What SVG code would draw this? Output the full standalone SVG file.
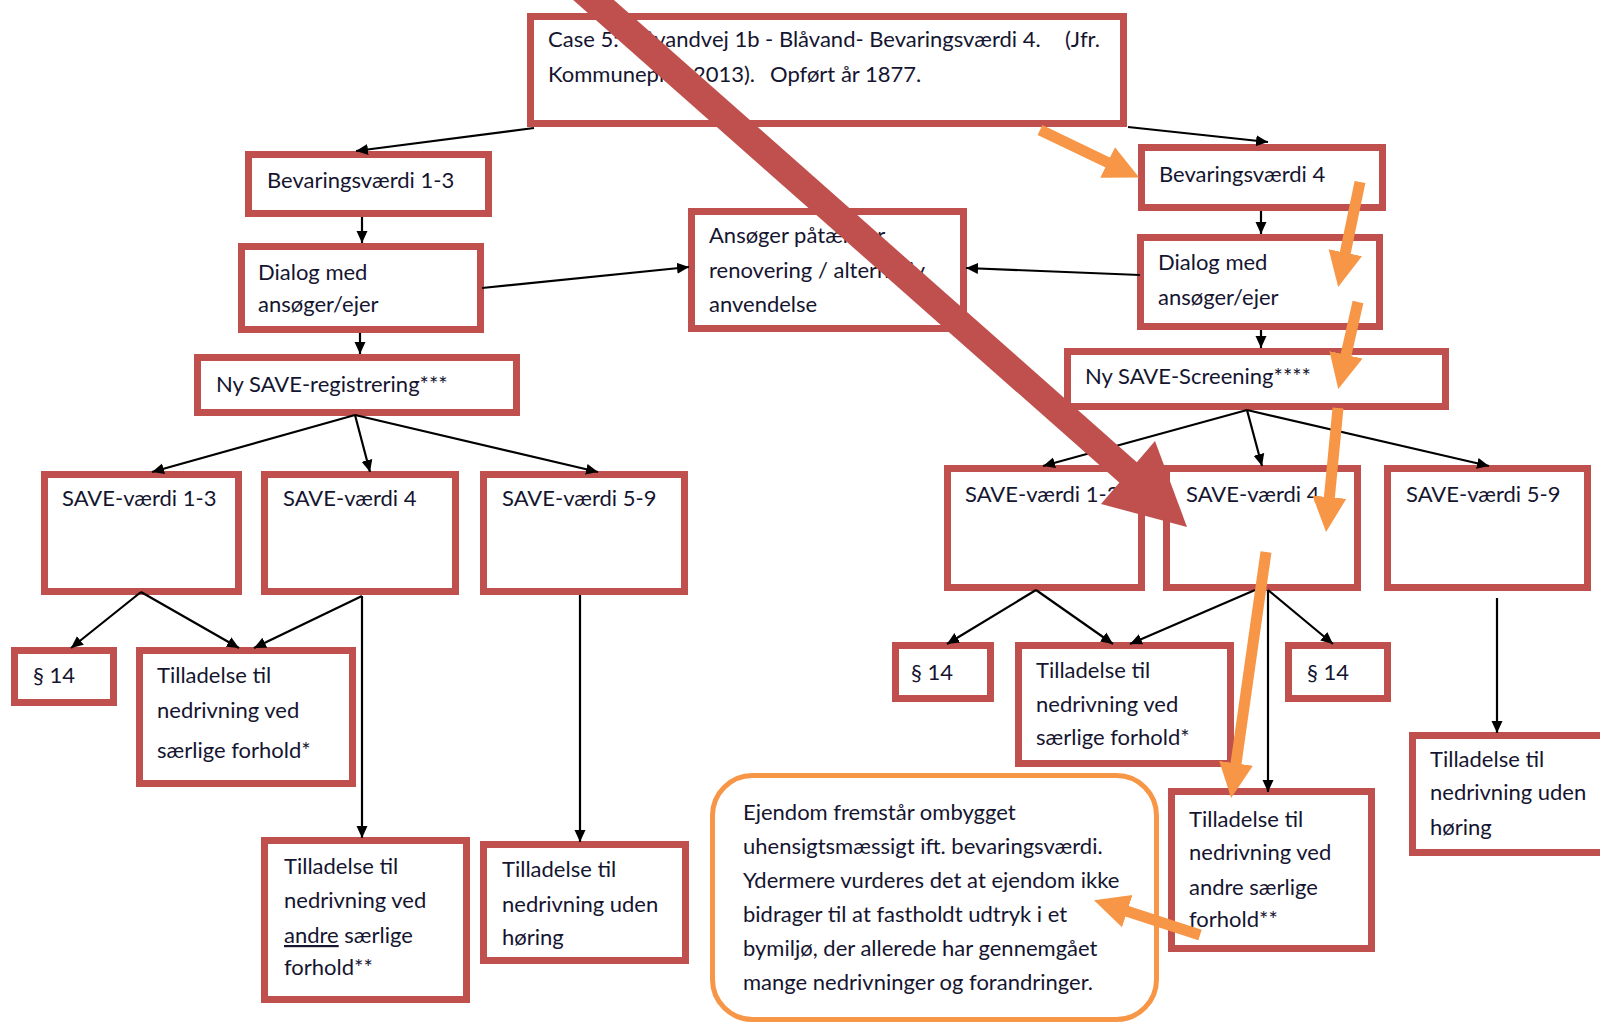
<svg xmlns="http://www.w3.org/2000/svg" width="1600" height="1022" viewBox="0 0 1600 1022">
<style>
.box{fill:#fff;stroke:#C0504D;stroke-width:7}
.t{font-family:Lato,"Liberation Sans",sans-serif;font-size:22px;fill:#151530}
.c{stroke:#000;stroke-width:2.2;fill:none}
.ca{stroke:#000;stroke-width:2.2;fill:none;marker-end:url(#ah)}
.o{stroke:#F79646;stroke-width:11;fill:none;marker-end:url(#oh)}
</style>
<defs>
<marker id="ah" markerUnits="userSpaceOnUse" markerWidth="14" markerHeight="14" viewBox="0 -7 14 14" refX="12" refY="0" orient="auto">
<path d="M0,-5.5 L12,0 L0,5.5 z" fill="#000"/>
</marker>
<marker id="oh" markerUnits="userSpaceOnUse" markerWidth="40" markerHeight="40" viewBox="0 -20 40 40" refX="1" refY="0" orient="auto">
<path d="M0,-17 L35,0 L0,17 z" fill="#F79646"/>
</marker>
</defs>
<rect width="1600" height="1022" fill="#fff"/>

<g id="n-top"><rect class="box" x="530.5" y="16.5" width="593" height="107"/>
<text class="t" x="548" y="47">Case 5: Blåvandvej 1b - Blåvand- Bevaringsværdi 4.</text><text class="t" x="1065" y="47">(Jfr.</text>
<text class="t" x="548" y="82">Kommuneplan 2013).</text><text class="t" x="770" y="82">Opført år 1877.</text></g>

<g id="n-bev13"><rect class="box" x="248.5" y="154.5" width="240" height="59"/><text class="t" x="267" y="188">Bevaringsværdi 1-3</text></g>
<g id="n-bev4"><rect class="box" x="1141.5" y="147.5" width="241" height="60"/><text class="t" x="1159" y="182">Bevaringsværdi 4</text></g>
<g id="n-dialogL"><rect class="box" x="241.5" y="246.5" width="239" height="83"/><text class="t" x="258" y="280">Dialog med</text><text class="t" x="258" y="312">ansøger/ejer</text></g>
<g id="n-ansoger"><rect class="box" x="691.5" y="211.5" width="272" height="117"/><text class="t" x="709" y="243">Ansøger påtænker</text><text class="t" x="709" y="278">renovering / alternativ</text><text class="t" x="709" y="312">anvendelse</text></g>
<g id="n-dialogR"><rect class="box" x="1140.5" y="237.5" width="239" height="89"/><text class="t" x="1158" y="270">Dialog med</text><text class="t" x="1158" y="305">ansøger/ejer</text></g>
<g id="n-nysaveL"><rect class="box" x="197.5" y="357.5" width="319" height="55"/><text class="t" x="216" y="392">Ny SAVE-registrering***</text></g>
<g id="n-nysaveR"><rect class="box" x="1067.5" y="351.5" width="378" height="55"/><text class="t" x="1085" y="384">Ny SAVE-Screening****</text></g>

<g id="n-save13L"><rect class="box" x="44.5" y="474.5" width="194" height="117"/><text class="t" x="62" y="506">SAVE-værdi 1-3</text></g>
<g id="n-save4L"><rect class="box" x="264.5" y="474.5" width="191" height="117"/><text class="t" x="283" y="506">SAVE-værdi 4</text></g>
<g id="n-save59L"><rect class="box" x="483.5" y="474.5" width="201" height="117"/><text class="t" x="502" y="506">SAVE-værdi 5-9</text></g>
<g id="n-save13R"><rect class="box" x="947.5" y="468.5" width="194" height="119"/><text class="t" x="965" y="502">SAVE-værdi 1-3</text></g>
<g id="n-save4R"><rect class="box" x="1166.5" y="468.5" width="191" height="119"/><text class="t" x="1186" y="502">SAVE-værdi 4</text></g>
<g id="n-save59R"><rect class="box" x="1387.5" y="468.5" width="200" height="119"/><text class="t" x="1406" y="502">SAVE-værdi 5-9</text></g>

<g id="n-p14L"><rect class="box" x="14.5" y="650.5" width="99" height="52"/><text class="t" x="33" y="683">§ 14</text></g>
<g id="n-tillL"><rect class="box" x="139.5" y="650.5" width="213" height="133"/><text class="t" x="157" y="683">Tilladelse til</text><text class="t" x="157" y="718">nedrivning ved</text><text class="t" x="157" y="758">særlige forhold*</text></g>
<g id="n-andreL"><rect class="box" x="264.5" y="840.5" width="202" height="159"/><text class="t" x="284" y="874">Tilladelse til</text><text class="t" x="284" y="908">nedrivning ved</text><text class="t" x="284" y="943"><tspan text-decoration="underline">andre</tspan> særlige</text><text class="t" x="284" y="975">forhold**</text></g>
<g id="n-udenL"><rect class="box" x="483.5" y="844.5" width="202" height="116"/><text class="t" x="502" y="877">Tilladelse til</text><text class="t" x="502" y="912">nedrivning uden</text><text class="t" x="502" y="945">høring</text></g>

<g id="n-p14R1"><rect class="box" x="895.5" y="645.5" width="95" height="53"/><text class="t" x="911" y="680">§ 14</text></g>
<g id="n-tillR"><rect class="box" x="1018.5" y="645.5" width="212" height="118"/><text class="t" x="1036" y="678">Tilladelse til</text><text class="t" x="1036" y="712">nedrivning ved</text><text class="t" x="1036" y="745">særlige forhold*</text></g>
<g id="n-p14R2"><rect class="box" x="1288.5" y="645.5" width="99" height="53"/><text class="t" x="1307" y="680">§ 14</text></g>
<g id="n-andreR"><rect class="box" x="1171.5" y="791.5" width="200" height="157"/><text class="t" x="1189" y="827">Tilladelse til</text><text class="t" x="1189" y="860">nedrivning ved</text><text class="t" x="1189" y="895">andre særlige</text><text class="t" x="1189" y="927">forhold**</text></g>
<g id="n-udenR"><rect class="box" x="1412.5" y="735.5" width="210" height="117"/><text class="t" x="1430" y="767">Tilladelse til</text><text class="t" x="1430" y="800">nedrivning uden</text><text class="t" x="1430" y="835">høring</text></g>

<g id="n-note"><rect x="712.5" y="775.5" width="444" height="244" rx="40" ry="40" fill="#fff" stroke="#F79646" stroke-width="5"/>
<text class="t" x="743" y="820">Ejendom fremstår ombygget</text>
<text class="t" x="743" y="854">uhensigtsmæssigt ift. bevaringsværdi.</text>
<text class="t" x="743" y="888">Ydermere vurderes det at ejendom ikke</text>
<text class="t" x="743" y="922">bidrager til at fastholdt udtryk i et</text>
<text class="t" x="743" y="956">bymiljø, der allerede har gennemgået</text>
<text class="t" x="743" y="990">mange nedrivninger og forandringer.</text></g>

<g id="connectors">
<path class="ca" d="M534,128 L356,151"/>
<path class="ca" d="M1128,127 L1268,142"/>
<path class="ca" d="M362,217 L362,243"/>
<path class="ca" d="M482,288 L689,267"/>
<path class="ca" d="M1140,275 L966,268"/>
<path class="ca" d="M1261,211 L1261,234"/>
<path class="ca" d="M360,333 L360,354"/>
<path class="ca" d="M1261,330 L1261,348"/>
<path class="ca" d="M355,415 L152,472"/>
<path class="ca" d="M355,415 L370,472"/>
<path class="ca" d="M355,415 L598,472"/>
<path class="ca" d="M1247,410 L1043,466"/>
<path class="ca" d="M1247,410 L1262,466"/>
<path class="ca" d="M1247,410 L1489,466"/>
<path class="ca" d="M141,592 L71,648"/>
<path class="ca" d="M141,592 L239,648"/>
<path class="ca" d="M362,596 L254,648"/>
<path class="ca" d="M362,596 L362,838"/>
<path class="ca" d="M580,595 L580,842"/>
<path class="ca" d="M1036,590 L947,644"/>
<path class="ca" d="M1036,590 L1113,644"/>
<path class="ca" d="M1255,590 L1130,644"/>
<path class="ca" d="M1268,590 L1333,644"/>
<path class="ca" d="M1268,590 L1268,792"/>
<path class="ca" d="M1497,598 L1497,733"/>
</g>

<g id="orange-arrows">
<path class="o" d="M1040,130 L1108.5,162.9"/>
<path class="o" d="M1360,182 L1345.1,253.7"/>
<path class="o" d="M1358,302 L1345.8,355.8"/>
<path class="o" d="M1338,408 L1329.3,498.2"/>
<path class="o" d="M1266,552 L1235.9,764.3"/>
<path class="o" d="M1200,935 L1126.3,910.9"/>
</g>

<g id="big-arrow">
<path d="M580,-12 L1131,475" stroke="#C0504D" stroke-width="27" fill="none"/>
<polygon points="1155,441 1187,527 1101,504" fill="#C0504D"/>
</g>
</svg>
